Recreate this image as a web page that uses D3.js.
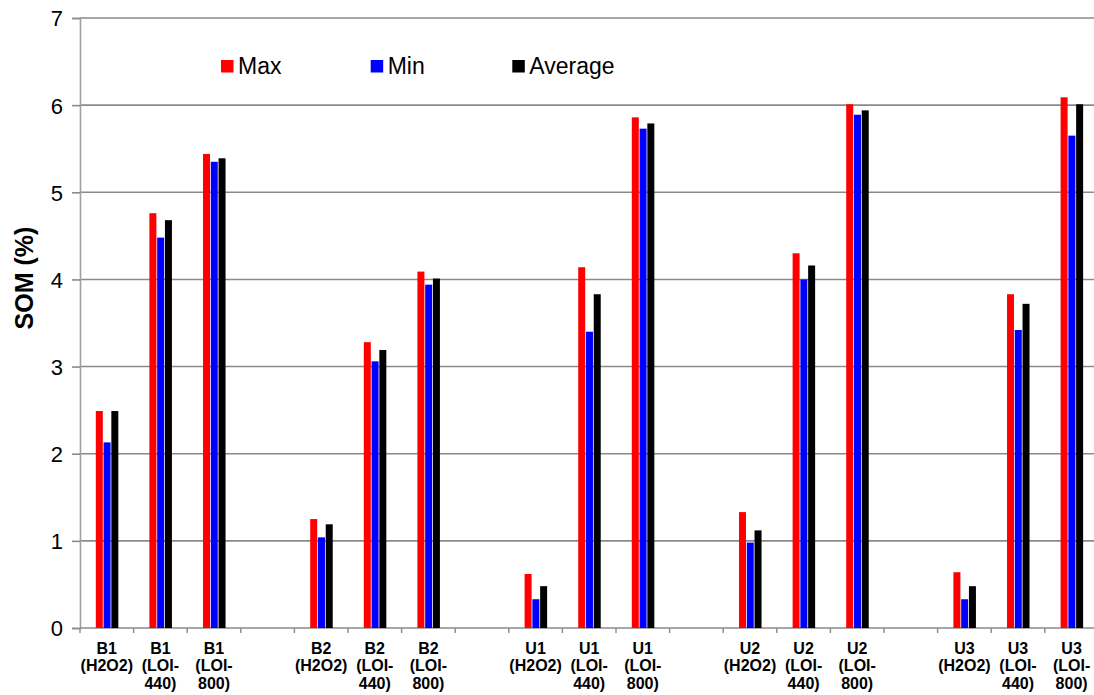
<!DOCTYPE html>
<html>
<head>
<meta charset="utf-8">
<script src="https://cdn.jsdelivr.net/npm/d3@7"></script>
<style>
  html, body { margin: 0; padding: 0; background: #fff; }
  svg { display: block; font-family: "Liberation Sans", Arial, sans-serif; }
</style>
</head>
<body>
<svg id="chart" width="1094" height="695"></svg>
<script>
// ---- Data ----
const categories = [
  "B1|(H2O2)", "B1|(LOI-|440)", "B1|(LOI-|800)", "",
  "B2|(H2O2)", "B2|(LOI-|440)", "B2|(LOI-|800)", "",
  "U1|(H2O2)", "U1|(LOI-|440)", "U1|(LOI-|800)", "",
  "U2|(H2O2)", "U2|(LOI-|440)", "U2|(LOI-|800)", "",
  "U3|(H2O2)", "U3|(LOI-|440)", "U3|(LOI-|800)"
];
const seriesNames = ["Max", "Min", "Average"];
const seriesColors = ["#ff0000", "#0000ff", "#000000"];
const maxValues = [2.49, 4.76, 5.44, null, 1.25, 3.28, 4.09, null, 0.62, 4.14, 5.86, null, 1.33, 4.30, 6.01, null, 0.64, 3.83, 6.09];
const minValues = [2.13, 4.48, 5.35, null, 1.04, 3.06, 3.94, null, 0.33, 3.40, 5.73, null, 0.98, 4.00, 5.89, null, 0.33, 3.42, 5.65];
const avgValues = [2.49, 4.68, 5.39, null, 1.19, 3.19, 4.01, null, 0.48, 3.83, 5.79, null, 1.12, 4.16, 5.94, null, 0.48, 3.72, 6.01];
const yTicks = [0, 1, 2, 3, 4, 5, 6, 7];
const yLabel = "SOM (%)";

(function () {
// ---- Layout ----
const svg = d3.select("#chart");
const mLeft = 80, mRight = 1098.4, mTop = 18, mBottom = 628;

const x0 = d3.scaleBand().domain(d3.range(categories.length)).range([mLeft, mRight]).padding(0);
const bw = x0.bandwidth();
const x1 = d3.scaleBand().domain(seriesNames).range([bw * 0.295, bw * 0.715]).paddingInner(0.1).paddingOuter(0);
const y = d3.scaleLinear().domain([0, 7]).range([mBottom, mTop]);

const gridColor = "#8a8a8a";

// gridlines
svg.append("g").selectAll("line").data(yTicks.filter(t => t > 0)).join("line")
  .attr("x1", mLeft).attr("x2", 1094)
  .attr("y1", d => y(d)).attr("y2", d => y(d))
  .attr("stroke", gridColor).attr("stroke-width", 1.6);

// y axis
const yAxis = d3.axisLeft(y).tickValues(yTicks).tickSize(8).tickPadding(8).tickFormat(d3.format("d"));
const gy = svg.append("g").attr("transform", `translate(${mLeft},0)`).call(yAxis);
gy.select(".domain").attr("stroke", "#a0a0a0").attr("stroke-width", 1.6);
gy.selectAll(".tick line").attr("stroke", gridColor).attr("stroke-width", 1.6);
gy.selectAll(".tick text").attr("font-size", 22).attr("fill", "#000")
  .attr("font-family", "Liberation Sans, Arial, sans-serif").attr("dy", "0.36em").attr("x", -17);

// x axis baseline
svg.append("line").attr("x1", mLeft).attr("x2", 1094).attr("y1", mBottom).attr("y2", mBottom)
  .attr("stroke", gridColor).attr("stroke-width", 1.6);
// x ticks at slot boundaries
svg.append("g").selectAll("line").data(d3.range(categories.length + 1)).join("line")
  .attr("x1", i => mLeft + i * bw).attr("x2", i => mLeft + i * bw)
  .attr("y1", mBottom).attr("y2", mBottom + 5)
  .attr("stroke", gridColor).attr("stroke-width", 1.4);

// bars
const seriesValues = [maxValues, minValues, avgValues];
seriesNames.forEach((s, si) => {
  const data = seriesValues[si].map((v, i) => ({ i, v })).filter(d => d.v !== null);
  svg.append("g").selectAll("rect").data(data).join("rect")
    .attr("x", d => x0(d.i) + x1(s))
    .attr("width", x1.bandwidth())
    .attr("y", d => y(d.v))
    .attr("height", d => y(0) - y(d.v))
    .attr("fill", seriesColors[si]);
});

// x labels
const xl = svg.append("g");
categories.forEach((c, i) => {
  if (!c) return;
  const lines = c.split("|");
  const t = xl.append("text")
    .attr("x", x0(i) + bw / 2)
    .attr("text-anchor", "middle")
    .attr("font-size", 16).attr("font-weight", "bold").attr("fill", "#000");
  lines.forEach((ln, li) => {
    t.append("tspan").attr("x", x0(i) + bw / 2).attr("y", 654 + li * 17.4).text(ln);
  });
});

// y label
svg.append("text")
  .attr("transform", `translate(33,278) rotate(-90)`)
  .attr("text-anchor", "middle")
  .attr("font-size", 25).attr("font-weight", "bold").attr("fill", "#000")
  .text(yLabel);

// legend
const legendX = [221, 370.7, 512.3];
const lg = svg.append("g");
seriesNames.forEach((s, si) => {
  lg.append("rect").attr("x", legendX[si]).attr("y", 60).attr("width", 12.5).attr("height", 12.5)
    .attr("fill", seriesColors[si]);
  lg.append("text").attr("x", legendX[si] + 17).attr("y", 73.5)
    .attr("font-size", 23).attr("fill", "#000").text(s);
});
})();
</script>
</body>
</html>
